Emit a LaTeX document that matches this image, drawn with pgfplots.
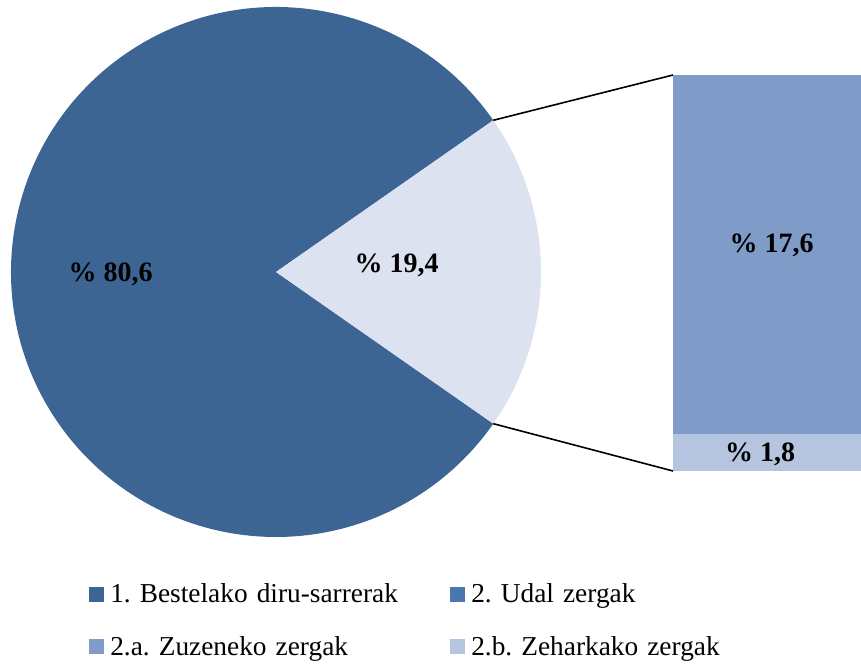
\documentclass[border=0pt]{standalone}
\usepackage{fontspec}
\setmainfont{Liberation Serif}
\usepackage{pgfplots}
\pgfplotsset{compat=1.18}
\definecolor{pieA}{HTML}{3D6594}
\definecolor{pieB}{HTML}{DCE2EF}
\definecolor{udal}{HTML}{4A77B0}
\definecolor{zuz}{HTML}{7F9CC9}
\definecolor{zeh}{HTML}{B5C4DF}
\newcommand\lblfont{\fontsize{21}{24}\selectfont\bfseries}
\frenchspacing

\begin{document}
\begin{tikzpicture}
% half opening of the 19,4 slice, in degrees
\pgfmathsetmacro\half{19.4*3.6/2}
\begin{axis}[
  x=0.75pt, y=0.75pt,
  xmin=0, xmax=861, ymin=0, ymax=664,
  enlargelimits=false, hide axis, clip=false,
  legend columns=2, legend cell align=left,
  legend style={draw=none, fill=none, inner sep=0pt,
    at={(axis cs:89,82)}, anchor=north west,
    font=\fontsize{20.5}{24}\selectfont,
    nodes={inner sep=0pt, text height=15.5pt, text depth=4.5pt, text width=255pt},
    row sep=19.4pt,
    /tikz/every odd column/.append style={column sep=4.5pt}},
  legend image code/.code={\fill[#1, draw=none] (0pt,-4.6pt) rectangle (11.25pt,6.65pt);},
]
\path (rel axis cs:0,0) rectangle (rel axis cs:1,1);
% overlay: the arc control points must not widen the picture
\fill[pieA, overlay] (axis cs:276,392) -- ++(\half:198.75pt)
  arc[start angle=\half, end angle=360-\half, radius=198.75pt] -- cycle;
\fill[pieB, overlay] (axis cs:276,392) -- ++(-\half:198.75pt)
  arc[start angle=-\half, end angle=\half, radius=198.75pt] -- cycle;
\path (axis cs:276,392) ++(\half:198.75pt) coordinate (pt)
      (axis cs:276,392) ++(-\half:198.75pt) coordinate (pb);
\node[anchor=base, font=\lblfont] at (axis cs:110.5,382) {\% 80,6};
\node[anchor=base, font=\lblfont] at (axis cs:396.5,391) {\% 19,4};
\addlegendimage{fill=pieA, draw=none}\addlegendentry{1. Bestelako diru-sarrerak}
\addlegendimage{fill=udal, draw=none}\addlegendentry{2. Udal zergak}
\addlegendimage{fill=zuz, draw=none}\addlegendentry{2.a. Zuzeneko zergak}
\addlegendimage{fill=zeh, draw=none}\addlegendentry{2.b. Zeharkako zergak}
\end{axis}

\begin{axis}[
  at={(504.75pt,144.75pt)}, anchor=south west,
  scale only axis, width=141pt, height=297pt,
  xmin=-0.5, xmax=0.5, ymin=0, ymax=19.4,
  hide axis, clip=false,
  ybar stacked, bar width=141pt,
]
\addplot[fill=zeh, draw=none] coordinates {(0,1.8)};
\addplot[fill=zuz, draw=none] coordinates {(0,17.6)};
\coordinate (bt) at (rel axis cs:0,1);
\coordinate (bb) at (rel axis cs:0,0);
\coordinate (l1) at (axis cs:0.024,10.7);
\coordinate (l2) at (axis cs:-0.037,0.45);
\end{axis}
\node[anchor=base, font=\lblfont] at (l1) {\% 17,6};
\node[anchor=base, font=\lblfont] at (l2) {\% 1,8};
\draw[line width=1.2pt] (pt) -- (bt);
\draw[line width=1.2pt] (pb) -- (bb);
\end{tikzpicture}
\end{document}
